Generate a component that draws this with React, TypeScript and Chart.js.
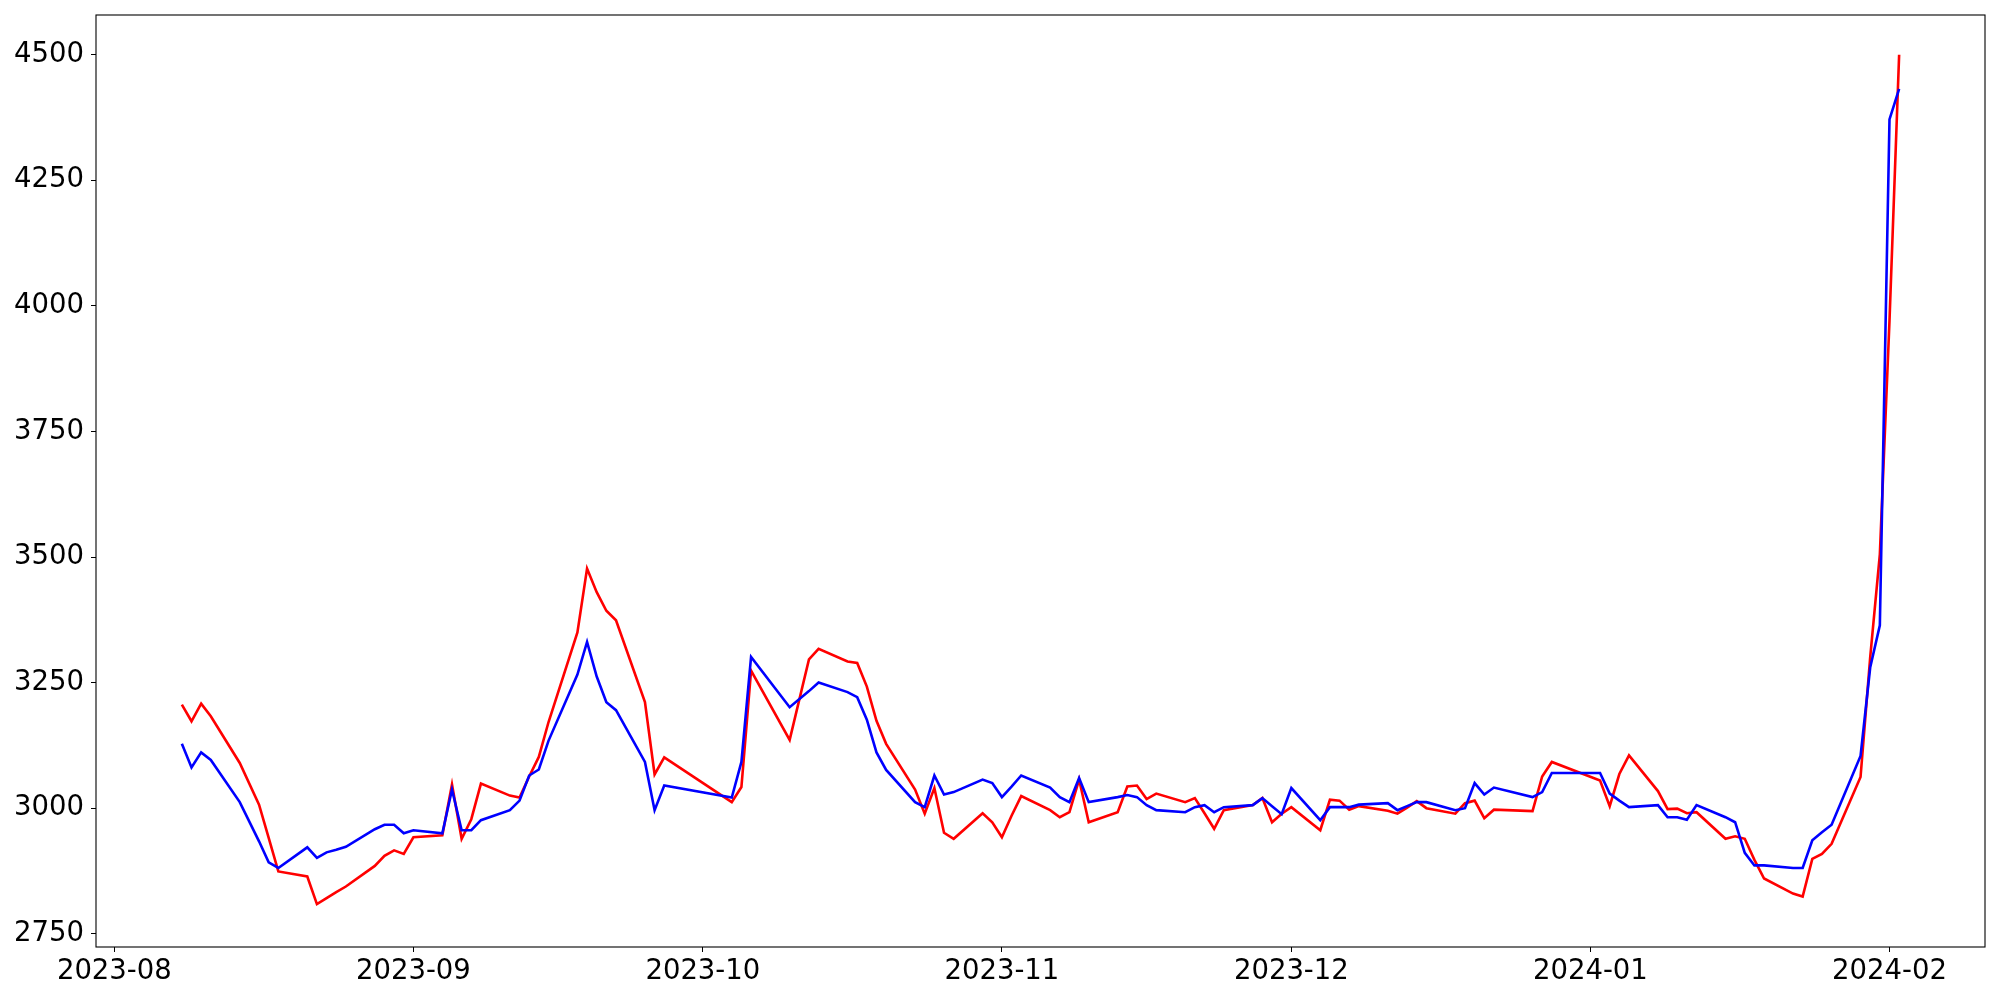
import React, { useEffect, useRef } from "react";
import { Chart, registerables } from "chart.js";

Chart.register(...registerables);

const DATES: string[] = [
  "2023-08-08", "2023-08-09", "2023-08-10", "2023-08-11", "2023-08-14", "2023-08-16", "2023-08-17", "2023-08-18",
  "2023-08-21", "2023-08-22", "2023-08-23", "2023-08-24", "2023-08-25", "2023-08-28", "2023-08-29", "2023-08-30",
  "2023-08-31", "2023-09-01", "2023-09-04", "2023-09-05", "2023-09-06", "2023-09-07", "2023-09-08", "2023-09-11",
  "2023-09-12", "2023-09-13", "2023-09-14", "2023-09-15", "2023-09-18", "2023-09-19", "2023-09-20", "2023-09-21",
  "2023-09-22", "2023-09-25", "2023-09-26", "2023-09-27", "2023-10-04", "2023-10-05", "2023-10-06", "2023-10-10",
  "2023-10-12", "2023-10-13", "2023-10-16", "2023-10-17", "2023-10-18", "2023-10-19", "2023-10-20", "2023-10-23",
  "2023-10-24", "2023-10-25", "2023-10-26", "2023-10-27", "2023-10-30", "2023-10-31", "2023-11-01", "2023-11-02",
  "2023-11-03", "2023-11-06", "2023-11-07", "2023-11-08", "2023-11-09", "2023-11-10", "2023-11-13", "2023-11-14",
  "2023-11-15", "2023-11-16", "2023-11-17", "2023-11-20", "2023-11-21", "2023-11-22", "2023-11-23", "2023-11-24",
  "2023-11-27", "2023-11-28", "2023-11-29", "2023-11-30", "2023-12-01", "2023-12-04", "2023-12-05", "2023-12-06",
  "2023-12-07", "2023-12-08", "2023-12-11", "2023-12-12", "2023-12-13", "2023-12-14", "2023-12-15", "2023-12-18",
  "2023-12-19", "2023-12-20", "2023-12-21", "2023-12-22", "2023-12-26", "2023-12-27", "2023-12-28", "2024-01-02",
  "2024-01-03", "2024-01-04", "2024-01-05", "2024-01-08", "2024-01-09", "2024-01-10", "2024-01-11", "2024-01-12",
  "2024-01-15", "2024-01-16", "2024-01-17", "2024-01-18", "2024-01-19", "2024-01-22", "2024-01-23", "2024-01-24",
  "2024-01-25", "2024-01-26", "2024-01-29", "2024-01-30", "2024-01-31", "2024-02-01", "2024-02-02",
];

const RED_VALUES: number[] = [
  3206, 3173, 3208, 3183, 3090, 3007, 2941, 2874,
  2864, 2809, 2821, 2833, 2844, 2885, 2905, 2916,
  2909, 2942, 2946, 3047, 2939, 2978, 3049, 3025,
  3021, 3063, 3102, 3171, 3350, 3477, 3430, 3393,
  3374, 3211, 3067, 3101, 3012, 3042, 3274, 3136,
  3296, 3317, 3292, 3289, 3242, 3174, 3128, 3037,
  2989, 3040, 2951, 2939, 2990, 2972, 2942, 2985,
  3024, 2996, 2982, 2992, 3057, 2972, 2992, 3043,
  3045, 3018, 3029, 3012, 3020, 2990, 2959, 2996,
  3006, 3020, 2972, 2989, 3002, 2956, 3017, 3015,
  2997, 3004, 2995, 2989, 3001, 3014, 3000, 2989,
  3010, 3015, 2980, 2997, 2994, 3063, 3092, 3055,
  3004, 3068, 3105, 3034, 2998, 2999, 2990, 2992,
  2939, 2944, 2939, 2897, 2860, 2830, 2824, 2899,
  2909, 2929, 3062, 3300, 3505, 3970, 4500,
];

const BLUE_VALUES: number[] = [
  3128, 3081, 3111, 3096, 3012, 2934, 2892, 2881,
  2922, 2901, 2912, 2917, 2923, 2958, 2967, 2967,
  2950, 2956, 2950, 3037, 2956, 2956, 2976, 2996,
  3015, 3065, 3077, 3134, 3266, 3331, 3262, 3211,
  3195, 3092, 2996, 3045, 3021, 3092, 3301, 3201,
  3233, 3250, 3231, 3221, 3176, 3111, 3076, 3012,
  3002, 3065, 3027, 3032, 3057, 3050, 3022, 3043,
  3065, 3041, 3022, 3012, 3060, 3012, 3022, 3026,
  3022, 3006, 2996, 2992, 3002, 3006, 2992, 3002,
  3006, 3020, 3004, 2988, 3040, 2976, 3002, 3002,
  3002, 3007, 3010, 2996, 3004, 3012, 3012, 2996,
  3000, 3050, 3027, 3041, 3022, 3032, 3070, 3070,
  3029, 3015, 3002, 3006, 2982, 2982, 2977, 3006,
  2982, 2972, 2911, 2886, 2886, 2881, 2881, 2936,
  2952, 2967, 3104, 3280, 3364, 4371, 4432,
];

const X_TICK_DATES: string[] = ["2023-08-01", "2023-09-01", "2023-10-01", "2023-11-01", "2023-12-01", "2024-01-01", "2024-02-01"];
const X_TICK_LABELS: string[] = ["2023-08", "2023-09", "2023-10", "2023-11", "2023-12", "2024-01", "2024-02"];
const Y_TICKS: number[] = [2750, 3000, 3250, 3500, 3750, 4000, 4250, 4500];

const ORIGIN = Date.UTC(2023, 7, 1);
function dayOffset(s: string): number {
  const [y, m, d] = s.split("-").map(Number);
  return (Date.UTC(y, m - 1, d) - ORIGIN) / 86400000;
}

const X_MIN = -1.9;
const X_MAX = 193.9;
const Y_MIN = 2723.6;
const Y_MAX = 4579;

const FONT = { family: "'DejaVu Sans', sans-serif", size: 27.5 };

const framePlugin = {
  id: "frame",
  afterDatasetsDraw(chart: any) {
    const { ctx, chartArea } = chart;
    ctx.save();
    ctx.strokeStyle = "#000";
    ctx.lineWidth = 1.1;
    ctx.strokeRect(chartArea.left, chartArea.top, chartArea.right - chartArea.left, chartArea.bottom - chartArea.top);
    ctx.restore();
  },
};

export default function App() {
  const ref = useRef<HTMLCanvasElement>(null);
  useEffect(() => {
    if (!ref.current) return;
    const chart = new Chart(ref.current, {
      type: "line",
      data: {
        datasets: [
          {
            label: "blue",
            data: DATES.map((d, i) => ({ x: dayOffset(d), y: BLUE_VALUES[i] })),
            borderColor: "#0000ff",
            borderWidth: 2.6,
            pointRadius: 0,
            fill: false,
            tension: 0,
          },
          {
            label: "red",
            data: DATES.map((d, i) => ({ x: dayOffset(d), y: RED_VALUES[i] })),
            borderColor: "#ff0000",
            borderWidth: 2.6,
            pointRadius: 0,
            fill: false,
            tension: 0,
          },
        ],
      },
      options: {
        animation: false,
        responsive: false,
        devicePixelRatio: 1,
        layout: { padding: { top: 15, right: 15, left: 0, bottom: 0 } },
        plugins: { legend: { display: false }, tooltip: { enabled: false } },
        scales: {
          x: {
            type: "linear",
            min: X_MIN,
            max: X_MAX,
            afterBuildTicks: (s: any) => {
              s.ticks = X_TICK_DATES.map((d) => ({ value: dayOffset(d) }));
            },
            afterFit: (s: any) => {
              s.height = 53;
              s.paddingLeft = 0;
              s.paddingRight = 0;
            },
            ticks: {
              callback: (_v: any, i: number) => X_TICK_LABELS[i],
              font: FONT,
              color: "#000",
              padding: 3,
              maxRotation: 0,
              autoSkip: false,
            },
            grid: { drawOnChartArea: false, drawTicks: true, tickLength: 5, color: "#000", lineWidth: 1 },
            border: { display: false },
          },
          y: {
            type: "linear",
            min: Y_MIN,
            max: Y_MAX,
            afterBuildTicks: (s: any) => {
              s.ticks = Y_TICKS.map((v) => ({ value: v }));
            },
            afterFit: (s: any) => {
              s.width = 96;
              s.paddingTop = 0;
              s.paddingBottom = 0;
            },
            ticks: {
              callback: (v: any) => String(v),
              font: FONT,
              color: "#000",
              padding: 7,
              autoSkip: false,
            },
            grid: { drawOnChartArea: false, drawTicks: true, tickLength: 5, color: "#000", lineWidth: 1 },
            border: { display: false },
          },
        },
      },
      plugins: [framePlugin],
    });
    return () => chart.destroy();
  }, []);
  return (
    <div style={{ position: "absolute", left: 0, top: 0, width: 2000, height: 1000, background: "#fff" }}>
      <canvas ref={ref} width={2000} height={1000} style={{ display: "block" }} />
    </div>
  );
}
